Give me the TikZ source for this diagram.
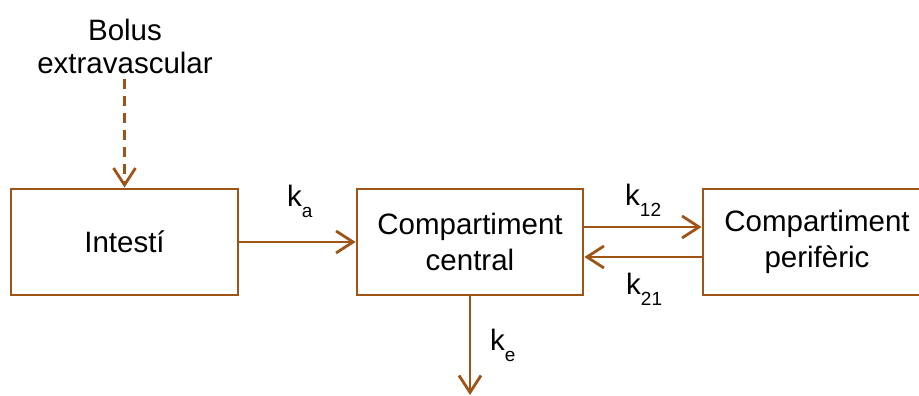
\documentclass[tikz,border=0pt]{standalone}
\usepackage{fontspec}
\setmainfont{Liberation Sans}
\usetikzlibrary{arrows.meta}
\definecolor{brn}{RGB}{158,84,22}
\newcommand\ksub[1]{k\raisebox{-11pt}{\fontsize{19}{19}\selectfont #1}}
\begin{document}
\begin{tikzpicture}[x=1pt,y=-1pt,
  box/.style={draw=brn,line width=2.8pt,rectangle,minimum height=106pt,inner sep=0pt,align=center,font=\fontsize{29.5}{36}\selectfont},
  flow/.style={draw=brn,line width=2.8pt,-{Straight Barb[length=17pt,width=22pt,line width=2.8pt]}},
  lbl/.style={font=\fontsize{29.5}{36}\selectfont,inner sep=0pt,anchor=base west}]
\useasboundingbox (0,0) rectangle (919,396);
\clip (0,0) rectangle (919,396);
\node[box,minimum width=227pt] (int) at (124.5,242) {Intestí};
\node[box,minimum width=226pt] (cen) at (470,242) {Compartiment\\central};
\node[box,minimum width=228pt] (per) at (817,242) {Compartiment\\perifèric};
\node[align=center,inner sep=0pt,font=\fontsize{29.5}{33}\selectfont] (bolus) at (125,46) {Bolus\\extravascular};
\coordinate (bs) at (124.5,79);
\coordinate (ke) at (470,395);
\draw[flow,dash pattern=on 10pt off 7pt] (bs) -- (int.north);
\draw[flow] (int.east) -- (cen.west);
\draw[flow] ([yshift=15pt]cen.east) -- ([yshift=15pt]per.west);
\draw[flow] ([yshift=-15pt]per.west) -- ([yshift=-15pt]cen.east);
\draw[flow] (cen.south) -- (ke);
\node[lbl] (ka) at (287,206) {\ksub{a}};
\node[lbl] (k12) at (625,205) {\ksub{12}};
\node[lbl] (k21) at (626,294) {\ksub{21}};
\node[lbl] (kel) at (490,350) {\ksub{e}};
\end{tikzpicture}
\end{document}
